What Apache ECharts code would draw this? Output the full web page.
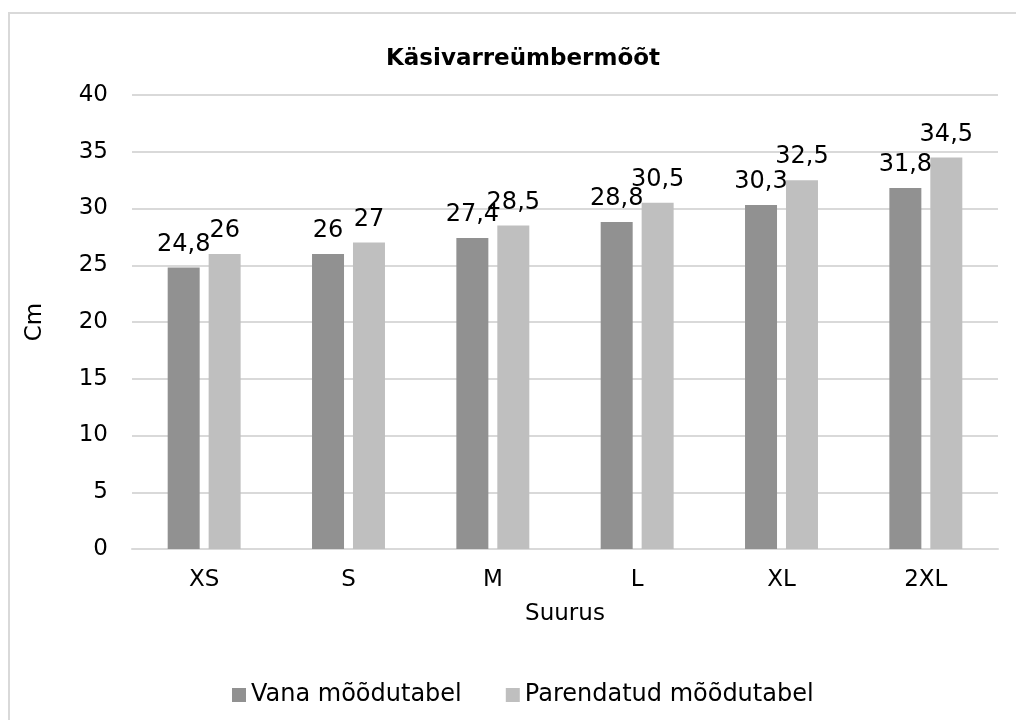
<!DOCTYPE html>
<html>
<head>
<meta charset="utf-8">
<script src="https://cdn.jsdelivr.net/npm/echarts@6/dist/echarts.min.js"></script>
<style>
  html, body { margin: 0; padding: 0; background: #fff; }
  #chart { width: 1016px; height: 720px; }
</style>
</head>
<body>
<div id="chart"></div>
<script>
const categories = ["XS", "S", "M", "L", "XL", "2XL"];
const oldTable = [24.8, 26, 27.4, 28.8, 30.3, 31.8];
const newTable = [26, 27, 28.5, 30.5, 32.5, 34.5];
const yTicks = { min: 0, max: 40, interval: 5 };

const font = "DejaVu Sans";
const fmt = (p) => String(p.value).replace(".", ",");

const chart = echarts.init(document.getElementById("chart"));
chart.setOption({
  animation: false,
  textStyle: { fontFamily: font, color: "#000" },
  graphic: [
    {
      type: "rect",
      shape: { x: 9, y: 13, width: 1020, height: 720 },
      style: { fill: "none", stroke: "#d9d9d9", lineWidth: 2 },
    },
  ],
  title: {
    text: "Käsivarreümbermõõt",
    left: 518,
    textAlign: "center",
    top: 43,
    textStyle: { fontFamily: font, fontSize: 23, fontWeight: "bold", color: "#000" },
  },
  legend: {
    data: ["Vana mõõdutabel", "Parendatud mõõdutabel"],
    left: 227,
    top: 678,
    icon: "rect",
    itemWidth: 14,
    itemHeight: 14,
    itemGap: 44,
    textStyle: { fontFamily: font, fontSize: 24, color: "#000" },
  },
  grid: { left: 132, right: 18, top: 95, bottom: 171 },
  xAxis: {
    type: "category",
    data: categories,
    name: "Suurus",
    nameLocation: "middle",
    nameGap: 54,
    nameTextStyle: { fontFamily: font, fontSize: 23, color: "#000" },
    axisLine: { lineStyle: { color: "#d9d9d9", width: 2 } },
    axisTick: { show: false },
    axisLabel: { fontFamily: font, fontSize: 23, color: "#000", margin: 20 },
  },
  yAxis: {
    type: "value",
    min: yTicks.min,
    max: yTicks.max,
    interval: yTicks.interval,
    name: "Cm",
    nameLocation: "middle",
    nameGap: 85,
    nameTextStyle: { fontFamily: font, fontSize: 23, color: "#000" },
    axisLine: { show: false },
    axisTick: { show: false },
    axisLabel: { fontFamily: font, fontSize: 23, color: "#000", margin: 24 },
    splitLine: { lineStyle: { color: "#d9d9d9", width: 2 } },
  },
  series: [
    {
      name: "Vana mõõdutabel",
      type: "bar",
      data: oldTable,
      barWidth: 32,
      barGap: "28%",
      itemStyle: { color: "#919191" },
      label: { show: true, position: "top", distance: 11, formatter: fmt, fontFamily: font, fontSize: 24, color: "#000" },
    },
    {
      name: "Parendatud mõõdutabel",
      type: "bar",
      data: newTable,
      barWidth: 32,
      itemStyle: { color: "#bfbfbf" },
      label: { show: true, position: "top", distance: 11, formatter: fmt, fontFamily: font, fontSize: 24, color: "#000" },
    },
  ],
});
</script>
</body>
</html>
